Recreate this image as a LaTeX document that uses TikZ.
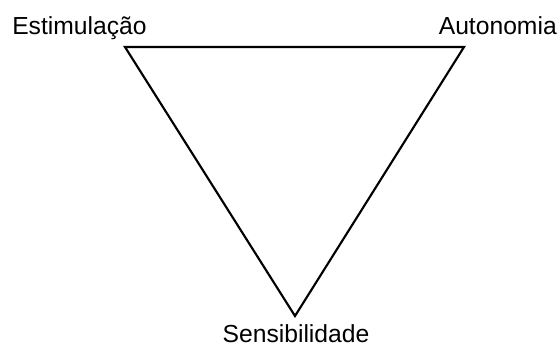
\documentclass[tikz,border=0pt]{standalone}
\usepackage{fontspec}
\setmainfont{Liberation Sans}
\begin{document}
\begin{tikzpicture}[x=0.75pt,y=-0.75pt,
  lbl/.style={inner sep=0pt,font=\fontsize{18.5}{21}\selectfont},
  edge/.style={line width=1.6pt,line join=miter}]
\useasboundingbox (0,0) rectangle (560,347);
\coordinate (tl) at (125,47);
\coordinate (tr) at (464,47);
\coordinate (bt) at (295,316);
\draw[edge] (tl) -- (tr) -- (bt) -- cycle;
\node[lbl,anchor=base west] (est) at (12,34) {Estimulação};
\node[lbl,anchor=base east] (aut) at (557,34) {Autonomia};
\node[lbl,anchor=base] (sen) at (296,342) {Sensibilidade};
\end{tikzpicture}
\end{document}
